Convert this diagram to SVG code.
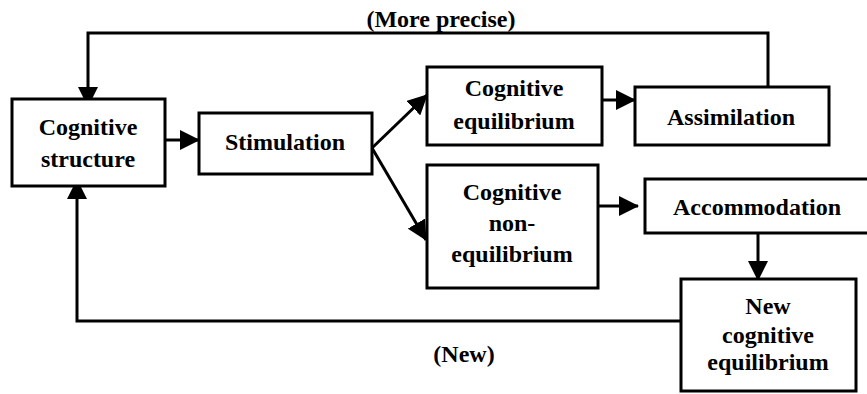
<svg xmlns="http://www.w3.org/2000/svg" width="867" height="394" viewBox="0 0 867 394">
<style>
  .box { fill: #fff; stroke: #000; stroke-width: 3; }
  .lbl { font-family: 'Liberation Serif', 'DejaVu Serif', serif; font-weight: 700; font-size: 24px; fill: #000; text-anchor: middle; }
  .con { fill: none; stroke: #000; stroke-width: 3; }
</style>
<defs>
  <marker id="ah" markerUnits="userSpaceOnUse" markerWidth="20" markerHeight="20" refX="19" refY="10" orient="auto" viewBox="0 0 20 20">
    <path d="M0,0 L20,10 L0,20 z" fill="#000"/>
  </marker>
</defs>
<rect width="867" height="394" fill="#fff"/>
<g id="connectors">
  <polyline class="con" points="768,87 768,33 88,33 88,106" marker-end="url(#ah)"/>
  <polyline class="con" points="681,321 77,321 77,180" marker-end="url(#ah)"/>
  <line class="con" x1="165" y1="140" x2="199" y2="140" marker-end="url(#ah)"/>
  <line class="con" x1="372" y1="148" x2="427" y2="95" marker-end="url(#ah)"/>
  <line class="con" x1="372" y1="148" x2="426" y2="240" marker-end="url(#ah)"/>
  <line class="con" x1="602" y1="100" x2="635" y2="100" marker-end="url(#ah)"/>
  <line class="con" x1="598" y1="206" x2="638" y2="206" marker-end="url(#ah)"/>
  <line class="con" x1="758" y1="233" x2="758" y2="280" marker-end="url(#ah)"/>
</g>
<g id="cognitive-structure">
  <rect class="box" x="12" y="99" width="153" height="87"/>
  <text class="lbl" font-family="Liberation Serif, serif" x="88" y="135">Cognitive</text>
  <text class="lbl" font-family="Liberation Serif, serif" x="88" y="167">structure</text>
</g>
<g id="stimulation">
  <rect class="box" x="199" y="113" width="173" height="61"/>
  <text class="lbl" x="285" y="150">Stimulation</text>
</g>
<g id="cognitive-equilibrium">
  <rect class="box" x="427" y="67" width="175" height="78"/>
  <text class="lbl" x="514" y="96">Cognitive</text>
  <text class="lbl" x="514" y="129">equilibrium</text>
</g>
<g id="assimilation">
  <rect class="box" x="635" y="87" width="194" height="58"/>
  <text class="lbl" x="731" y="125">Assimilation</text>
</g>
<g id="cognitive-non-equilibrium">
  <rect class="box" x="427" y="165" width="171" height="123"/>
  <text class="lbl" x="512" y="200">Cognitive</text>
  <text class="lbl" x="512" y="231">non-</text>
  <text class="lbl" x="512" y="262">equilibrium</text>
</g>
<g id="accommodation">
  <rect class="box" x="645" y="179" width="230" height="54"/>
  <text class="lbl" x="757" y="215">Accommodation</text>
</g>
<g id="new-cognitive-equilibrium">
  <rect class="box" x="681" y="279" width="175" height="112"/>
  <text class="lbl" x="768" y="314">New</text>
  <text class="lbl" x="768" y="343">cognitive</text>
  <text class="lbl" x="768" y="370">equilibrium</text>
</g>
<g id="edge-labels">
  <text class="lbl" x="441" y="27">(More precise)</text>
  <text class="lbl" x="464" y="362">(New)</text>
</g>
</svg>
